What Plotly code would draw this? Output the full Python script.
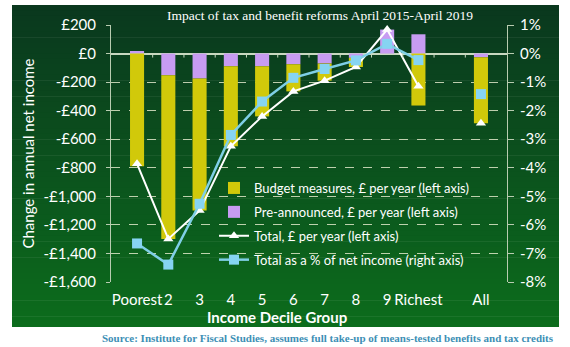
import plotly.graph_objects as go

# ---- data ----
categories = ["Poorest", "2", "3", "4", "5", "6", "7", "8", "9", "Richest", " ", "All"]
budget_measures = [-790, -1146, -925, -561, -351, -190, -120, -64, 0, -364, None, -462]
pre_announced = [18, -152, -175, -89, -89, -75, -70, -30, 168, 135, None, -26]
total_gbp = [-772, -1298, -1100, -650, -440, -265, -190, -94, 168, -229, None, -488]
total_pct = [-6.65, -7.39, -5.26, -2.85, -1.68, -0.85, -0.54, -0.24, 0.34, -0.23, None, -1.42]

left_tickvals = [200, 0, -200, -400, -600, -800, -1000, -1200, -1400, -1600]
left_ticktext = ["£200", "£0", "-£200", "-£400", "-£600", "-£800", "-£1,000", "-£1,200", "-£1,400", "-£1,600"]
right_tickvals = [1, 0, -1, -2, -3, -4, -5, -6, -7, -8]
right_ticktext = ["1%", "0%", "-1%", "-2%", "-3%", "-4%", "-5%", "-6%", "-7%", "-8%"]

title_text = "Impact of tax and benefit reforms April 2015-April 2019"
source_text = "Source: Institute for Fiscal Studies, assumes full take-up of means-tested benefits and tax credits"

FONT = "Lato"
W, H = 570, 347
L, R, T, B = 111, 63, 25, 65
pw, ph = W - L - R, H - T - B


def px_x(x):
    return (x - L) / pw


def px_y(y):
    return (H - B - y) / ph


fig = go.Figure()
# pre-announced drawn first so it sits next to the zero line (as in the original)
fig.add_trace(go.Bar(x=categories, y=pre_announced, name="Pre-announced, £ per year (left axis)",
                     marker=dict(color="#c79cf2", line=dict(width=0)), legendgroup="b", legendrank=2))
fig.add_trace(go.Bar(x=categories, y=budget_measures, name="Budget measures, £ per year (left axis)",
                     marker=dict(color="#d1c90a", line=dict(width=0)), legendgroup="a", legendrank=1))
fig.add_trace(go.Scatter(x=categories, y=total_gbp, name="Total, £ per year (left axis)",
                         mode="lines+markers", connectgaps=False,
                         line=dict(color="white", width=2),
                         marker=dict(symbol="triangle-up", size=9, color="white"),
                         legendgroup="c", legendrank=3))
fig.add_trace(go.Scatter(x=categories, y=total_pct, name="Total as a % of net income (right axis)",
                         mode="lines+markers", connectgaps=False, yaxis="y2",
                         line=dict(color="#7fcfe6", width=2.5),
                         marker=dict(symbol="square", size=10, color="#86d4f2"),
                         legendgroup="d", legendrank=4))

# background gradient panel
shapes = []
top_px, bot_px, left_px, right_px = 5, 327, 12, 559
n = 60
c0 = (10, 56, 30)
c1 = (12, 108, 28)
for i in range(n):
    f = i / (n - 1)
    c = tuple(int(round(c0[k] + (c1[k] - c0[k]) * f)) for k in range(3))
    y0 = top_px + (bot_px - top_px) * i / n
    y1 = top_px + (bot_px - top_px) * (i + 1) / n + 0.6
    shapes.append(dict(type="rect", xref="paper", yref="paper", layer="below",
                       x0=px_x(left_px), x1=px_x(right_px), y0=px_y(min(y1, bot_px)), y1=px_y(y0),
                       fillcolor="rgb(%d,%d,%d)" % c, line=dict(width=0)))
# small tick marks on zero line at category boundaries
for k in range(11):
    shapes.append(dict(type="line", xref="x", yref="y", x0=k + 0.5, x1=k + 0.5, y0=0, y1=-28,
                       line=dict(color="#c8d8c0", width=1)))

grid = dict(showgrid=True, gridcolor="rgba(235,240,210,0.8)", gridwidth=1, griddash="dash")

fig.update_layout(
    width=W, height=H,
    margin=dict(l=L, r=R, t=T, b=B, autoexpand=False),
    paper_bgcolor="white",
    plot_bgcolor="rgba(0,0,0,0)",
    barmode="relative",
    bargap=0.55,
    font=dict(family=FONT, color="white"),
    shapes=shapes,
    showlegend=True,
    legend=dict(x=px_x(214), y=px_y(173), xanchor="left", yanchor="top",
                bgcolor="rgba(0,0,0,0)", font=dict(size=13, color="white", family=FONT),
                traceorder="grouped", tracegroupgap=4, itemwidth=30),
    xaxis=dict(type="category", categoryorder="array", categoryarray=categories,
               showline=False, ticks="outside", ticklen=4, tickcolor="rgba(0,0,0,0)",
               showgrid=False, tickangle=0, automargin=False,
               tickfont=dict(size=15, color="white", family=FONT)),
    yaxis=dict(range=[-1600, 200], tickvals=left_tickvals, ticktext=left_ticktext,
               tickfont=dict(size=15, color="white", family=FONT), automargin=False,
               ticks="outside", ticklen=4, tickcolor="#b8ccb0", ticklabelstandoff=7,
               showline=True, linecolor="#b8ccb0", linewidth=1,
               zeroline=True, zerolinecolor="#c8d8c0", zerolinewidth=1.5,
               title=dict(text="Change in annual net income", standoff=5,
                          font=dict(size=15, color="white", family=FONT)),
               **grid),
    yaxis2=dict(range=[-8, 1], tickvals=right_tickvals, ticktext=right_ticktext,
                overlaying="y", side="right", showgrid=False, zeroline=False, automargin=False,
                showline=True, linecolor="#b8ccb0", linewidth=1,
                ticks="outside", ticklen=6, tickcolor="#b8ccb0", ticklabelstandoff=3,
                tickfont=dict(size=15, color="white", family=FONT)),
    annotations=[
        dict(text=title_text, xref="paper", yref="paper", x=px_x(320), y=px_y(16),
             xanchor="center", yanchor="middle",
             showarrow=False, font=dict(family="Liberation Serif", size=13.5, color="white")),
        dict(text="<b>Income Decile Group</b>", xref="paper", yref="paper", x=px_x(277), y=px_y(317),
             xanchor="center", yanchor="middle",
             showarrow=False, font=dict(family=FONT, size=15, color="white")),
        dict(text="<b>" + source_text + "</b>", xref="paper", yref="paper", x=px_x(328), y=px_y(338),
             xanchor="center", yanchor="middle",
             showarrow=False, font=dict(family="Liberation Serif", size=11, color="#3d8fb5")),
    ],
)

fig.write_html("out.html")
